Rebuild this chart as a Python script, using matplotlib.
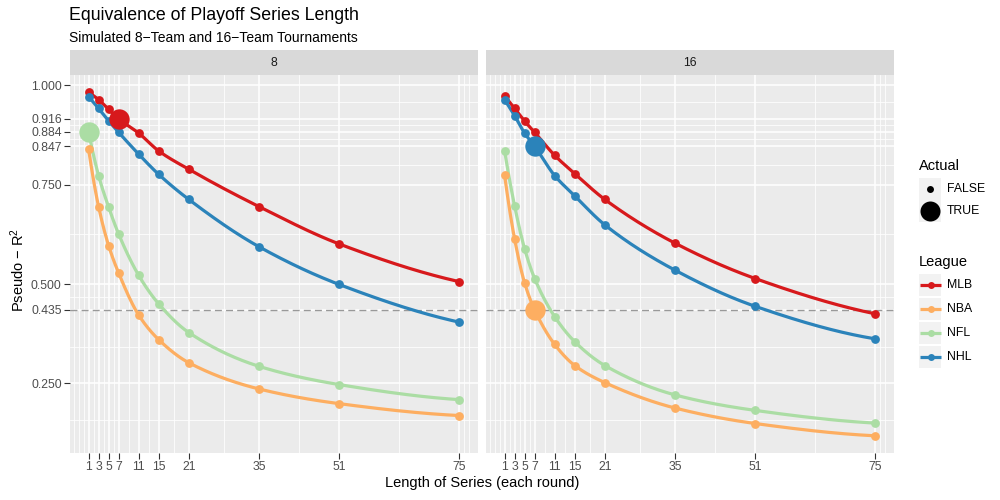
import numpy as np
import matplotlib
matplotlib.use("Agg")
import matplotlib.pyplot as plt
from matplotlib.patches import Rectangle

plt.rcParams['font.family'] = ['Liberation Sans', 'DejaVu Sans']
plt.rcParams['mathtext.fontset'] = 'custom'
plt.rcParams['mathtext.rm'] = 'Liberation Sans'
plt.rcParams['mathtext.it'] = 'Liberation Sans'

# series lengths (games per round)
series_len = [1, 3, 5, 7, 11, 15, 21, 35, 51, 75]
leagues = ["MLB", "NBA", "NFL", "NHL"]
colors = {"MLB": "#D7191C", "NBA": "#FDAE61", "NFL": "#ABDDA4", "NHL": "#2B83BA"}

# pseudo R^2, 8-team tournament
mlb_8 = [0.983, 0.964, 0.940, 0.916, 0.880, 0.835, 0.789, 0.695, 0.601, 0.506]
nba_8 = [0.840, 0.695, 0.597, 0.528, 0.422, 0.360, 0.302, 0.236, 0.199, 0.169]
nfl_8 = [0.884, 0.773, 0.694, 0.626, 0.522, 0.450, 0.378, 0.293, 0.247, 0.209]
nhl_8 = [0.972, 0.942, 0.911, 0.882, 0.827, 0.776, 0.713, 0.594, 0.499, 0.404]

# pseudo R^2, 16-team tournament
mlb_16 = [0.974, 0.942, 0.910, 0.882, 0.824, 0.778, 0.713, 0.603, 0.514, 0.425]
nba_16 = [0.775, 0.614, 0.503, 0.435, 0.348, 0.295, 0.252, 0.188, 0.149, 0.118]
nfl_16 = [0.836, 0.697, 0.589, 0.514, 0.418, 0.355, 0.295, 0.221, 0.182, 0.150]
nhl_16 = [0.964, 0.924, 0.880, 0.847, 0.773, 0.722, 0.649, 0.535, 0.444, 0.362]

# actual series length of each league (the big dots)
actual_8 = {"MLB": 7, "NFL": 1}
actual_16 = {"NHL": 7, "NBA": 7}

panels = [
    ("8", {"MLB": mlb_8, "NBA": nba_8, "NFL": nfl_8, "NHL": nhl_8}, actual_8),
    ("16", {"MLB": mlb_16, "NBA": nba_16, "NFL": nfl_16, "NHL": nhl_16}, actual_16),
]

y_breaks = [0.25, 0.435, 0.5, 0.75, 0.847, 0.884, 0.916, 1.0]
ref_line = 0.435


def pchip(x, y, xs):
    # monotone cubic (Fritsch-Carlson) for a smooth curve through the points
    x = np.asarray(x, float)
    y = np.asarray(y, float)
    h = np.diff(x)
    d = np.diff(y) / h
    n = len(x)
    m = np.zeros(n)
    for k in range(1, n - 1):
        if d[k - 1] * d[k] > 0:
            w1 = 2 * h[k] + h[k - 1]
            w2 = h[k] + 2 * h[k - 1]
            m[k] = (w1 + w2) / (w1 / d[k - 1] + w2 / d[k])
    m0 = ((2 * h[0] + h[1]) * d[0] - h[0] * d[1]) / (h[0] + h[1])
    if np.sign(m0) != np.sign(d[0]):
        m0 = 0
    m[0] = m0
    mn = ((2 * h[-1] + h[-2]) * d[-1] - h[-1] * d[-2]) / (h[-1] + h[-2])
    if np.sign(mn) != np.sign(d[-1]):
        mn = 0
    m[-1] = mn
    idx = np.clip(np.searchsorted(x, xs) - 1, 0, n - 2)
    t = (xs - x[idx]) / h[idx]
    h00 = 2 * t**3 - 3 * t**2 + 1
    h10 = t**3 - 2 * t**2 + t
    h01 = -2 * t**3 + 3 * t**2
    h11 = t**3 - t**2
    return h00 * y[idx] + h10 * h[idx] * m[idx] + h01 * y[idx + 1] + h11 * h[idx] * m[idx + 1]


fig = plt.figure(figsize=(10, 5), dpi=100)

all_vals = np.concatenate([np.array(v) for _, d, _ in panels for v in d.values()])
ymin, ymax = all_vals.min(), all_vals.max()
ypad = 0.05 * (ymax - ymin)
xpad = 0.05 * (series_len[-1] - series_len[0])

x_minor = [-2, -1, 0, 2, 4, 6, 9, 13, 18, 28, 43, 63, 76, 77]
y_minor = [0.1575, 0.3425, 0.4675, 0.625, 0.7985, 0.8655, 0.9, 0.958]

lefts = [0.070, 0.486]
for i, (label, data, actual) in enumerate(panels):
    ax = fig.add_axes([lefts[i], 0.094, 0.408, 0.756])
    ax.set_facecolor("#EBEBEB")
    for s in ax.spines.values():
        s.set_visible(False)
    ax.set_xlim(series_len[0] - xpad, series_len[-1] + xpad)
    ax.set_ylim(ymin - ypad, ymax + ypad)
    ax.set_xticks(series_len)
    ax.set_xticks(x_minor, minor=True)
    ax.set_yticks(y_breaks)
    ax.set_yticks(y_minor, minor=True)
    ax.grid(which="major", color="white", lw=1.1)
    ax.grid(which="minor", color="white", lw=0.55)
    ax.set_axisbelow(True)
    ax.tick_params(which="minor", length=0)
    ax.tick_params(which="major", length=4, width=0.8, color="#333333",
                   labelcolor="#4D4D4D", labelsize=8.8, pad=2)
    ax.set_xticklabels([str(v) for v in series_len])
    if i == 0:
        ax.set_yticklabels(["%.3f" % v for v in y_breaks])
    else:
        ax.tick_params(axis="y", length=0, labelleft=False)

    ax.axhline(ref_line, color="#999999", lw=1, ls=(0, (5, 3)), zorder=1)

    xs = np.linspace(series_len[0], series_len[-1], 400)
    for lg in leagues:
        vals = data[lg]
        ax.plot(xs, pchip(series_len, vals, xs), color=colors[lg], lw=2.3,
                solid_capstyle="butt", zorder=2)
    for lg in leagues:
        vals = data[lg]
        small_x = [x for x in series_len if actual.get(lg) != x]
        small_y = [v for x, v in zip(series_len, vals) if actual.get(lg) != x]
        ax.scatter(small_x, small_y, s=40, color=colors[lg], lw=0, zorder=3)
        if lg in actual:
            k = series_len.index(actual[lg])
            ax.scatter([actual[lg]], [vals[k]], s=215, color=colors[lg], lw=0, zorder=4)

    # facet strip
    sax = fig.add_axes([lefts[i], 0.85, 0.408, 0.05])
    sax.set_facecolor("#D9D9D9")
    sax.set_xticks([])
    sax.set_yticks([])
    for s in sax.spines.values():
        s.set_visible(False)
    sax.text(0.5, 0.5, label, ha="center", va="center", fontsize=8.8, color="#1A1A1A",
             transform=sax.transAxes)

fig.text(0.069, 1 - 15 / 500, "Equivalence of Playoff Series Length", fontsize=12.8,
         ha="left", va="center", color="black")
fig.text(0.069, 1 - 38 / 500, "Simulated 8\u2212Team and 16\u2212Team Tournaments", fontsize=10,
         ha="left", va="center", color="black")
fig.text(0.482, 1 - 483 / 500, "Length of Series (each round)", fontsize=10.5,
         ha="center", va="center")
fig.text(0.018, 1 - 270 / 500, "Pseudo \u2212 R$^2$", fontsize=10.5, rotation=90,
         ha="center", va="center")

# legends drawn in pixel coordinates
lax = fig.add_axes([0, 0, 1, 1], zorder=5)
lax.set_xlim(0, 1000)
lax.set_ylim(500, 0)
lax.axis("off")
lax.patch.set_alpha(0)

lax.text(919, 166, "Actual", fontsize=10.5, ha="left", va="center")
for j, (txt, ms) in enumerate([("FALSE", 5), ("TRUE", 14.4)]):
    yc = 189 + j * 22
    lax.add_patch(Rectangle((919, yc - 11), 22, 22, color="#F2F2F2", lw=0))
    lax.plot([930], [yc], "o", ms=ms, color="black", mew=0)
    lax.text(947, yc, txt, fontsize=8.8, ha="left", va="center")

lax.text(919, 262, "League", fontsize=10.5, ha="left", va="center")
for j, lg in enumerate(leagues):
    yc = 285 + j * 24
    lax.add_patch(Rectangle((919, yc - 11), 22, 22, color="#F2F2F2", lw=0))
    lax.plot([920, 941], [yc, yc], color=colors[lg], lw=2.3, solid_capstyle="butt")
    lax.plot([930.5], [yc], "o", ms=5, color=colors[lg], mew=0)
    lax.text(947, yc, lg, fontsize=8.8, ha="left", va="center")

fig.savefig("out.png", dpi=100)
